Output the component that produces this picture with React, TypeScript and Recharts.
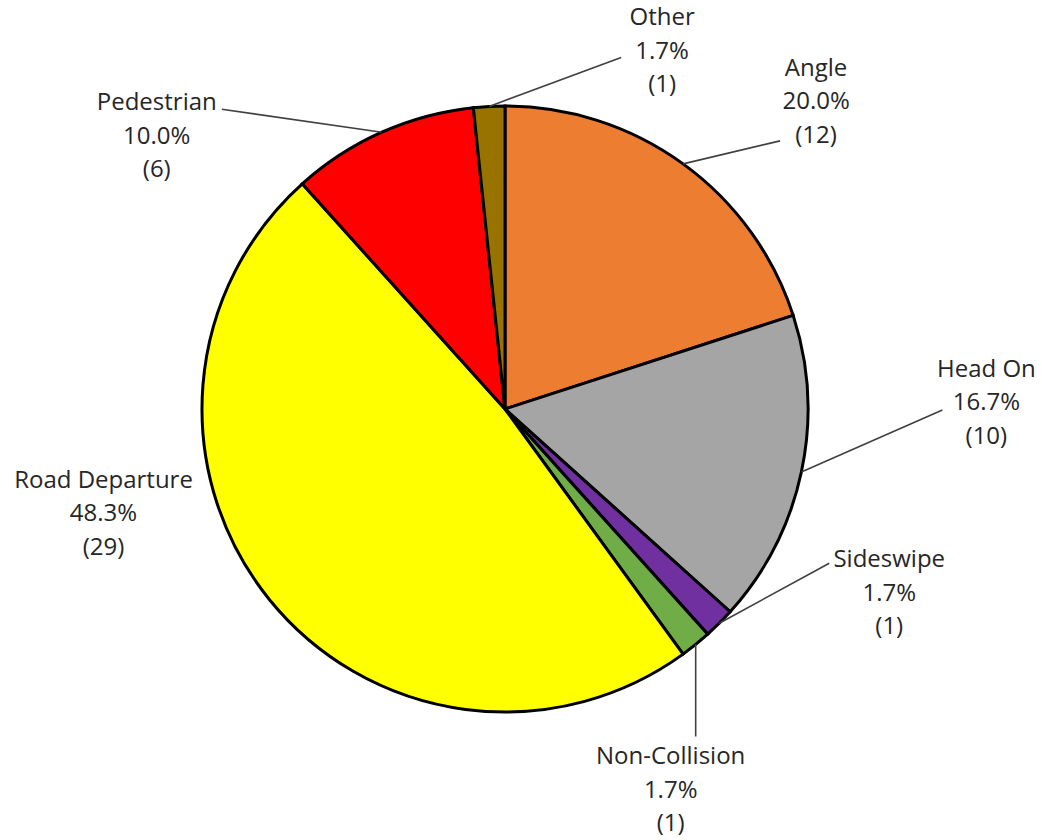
import React from 'react';
import { PieChart, Pie, Cell } from 'recharts';

const categories = ['Angle', 'Head On', 'Sideswipe', 'Non-Collision', 'Road Departure', 'Pedestrian', 'Other'];
const crashCounts = [12, 10, 1, 1, 29, 6, 1];
const sliceColors = ['#ED7D31', '#A5A5A5', '#7030A0', '#70AD47', '#FFFF00', '#FF0000', '#997300'];

// label block (middle line centre) and leader end, relative to the slice's outer midpoint
const labelLayout: Record<string, { tx: number; ty: number; lx?: number; ly?: number }> = {
  Angle: { tx: 133, ty: -63, lx: 97, ly: -23 },
  'Head On': { tx: 185, ty: -70, lx: 141, ly: -62 },
  Sideswipe: { tx: 170, ty: -31, lx: 110, ly: -60 },
  'Non-Collision': { tx: -25, ty: 145, lx: 0, ly: 92 },
  'Road Departure': { tx: -166, ty: -87 },
  Pedestrian: { tx: -225, ty: 3, lx: -160, ly: -23 },
  Other: { tx: 173, ty: -56, lx: 132, ly: -49 },
};

const chartData = categories.map((name, i) => ({ name, value: crashCounts[i] }));

const RADIAN = Math.PI / 180;
const LINE_H = 33.5;

const renderLabel = (props: any) => {
  const { cx, cy, midAngle, outerRadius, name, value, percent } = props;
  const ex = cx + outerRadius * Math.cos(-midAngle * RADIAN);
  const ey = cy + outerRadius * Math.sin(-midAngle * RADIAN);
  const lay = labelLayout[name];
  const tx = ex + lay.tx;
  const ty = ey + lay.ty;
  const lines = [name, `${(percent * 100).toFixed(1)}%`, `(${value})`];
  return (
    <g>
      {lay.lx !== undefined && (
        <line x1={ex} y1={ey} x2={ex + lay.lx} y2={ey + (lay.ly || 0)} stroke="#404040" strokeWidth={1.6} />
      )}
      {lines.map((t, i) => (
        <text
          key={i}
          x={tx}
          y={ty + (i - 1) * LINE_H + 8.5}
          textAnchor="middle"
          fill="#262626"
          fontSize={24}
          fontFamily="'Open Sans', sans-serif"
        >
          {t}
        </text>
      ))}
    </g>
  );
};

const App: React.FC = () => {
  return (
    <div style={{ position: 'absolute', left: 0, top: 0, width: 1042, height: 840, background: '#fff' }}>
      <PieChart width={1042} height={840} margin={{ top: 0, right: 0, bottom: 0, left: 0 }}>
        <Pie
          data={chartData}
          dataKey="value"
          nameKey="name"
          cx={505}
          cy={409}
          outerRadius={303}
          startAngle={90}
          endAngle={-270}
          stroke="#000"
          strokeWidth={3}
          label={renderLabel}
          labelLine={false}
          isAnimationActive={false}
        >
          {chartData.map((entry, i) => (
            <Cell key={entry.name} fill={sliceColors[i]} />
          ))}
        </Pie>
      </PieChart>
    </div>
  );
};

export default App;
